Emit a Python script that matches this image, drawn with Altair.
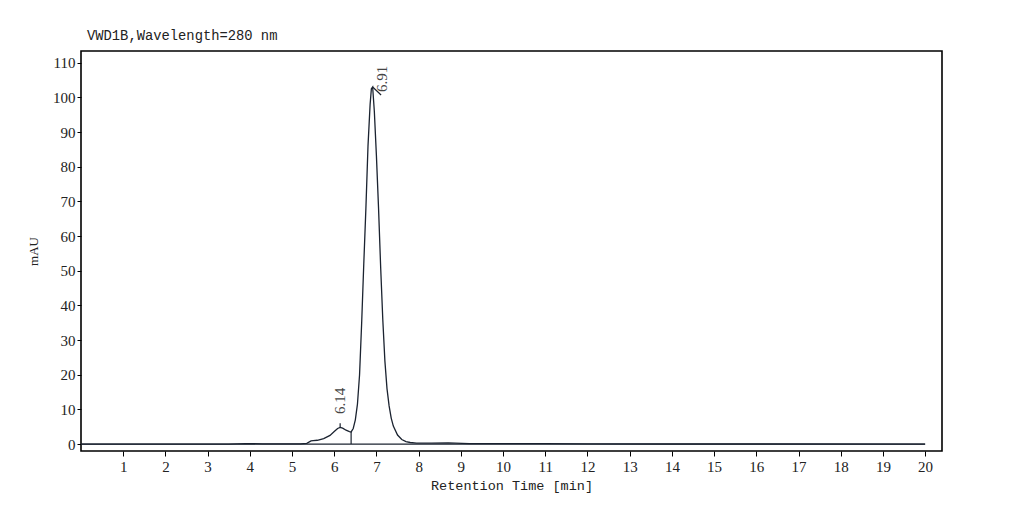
import altair as alt
import pandas as pd

# chromatogram trace (time in min, signal in mAU)
times = [0, 3.5, 3.9, 4.3, 5.2, 5.35, 5.45, 5.5, 5.6, 5.75, 5.9, 6.0, 6.08, 6.14, 6.2,
         6.28, 6.36, 6.4, 6.45, 6.5, 6.55, 6.6, 6.65, 6.7, 6.75, 6.8, 6.85, 6.88, 6.91,
         6.95, 7.0, 7.05, 7.1, 7.15, 7.2, 7.25, 7.3, 7.35, 7.4, 7.5, 7.6, 7.7, 7.8, 7.95,
         8.3, 8.7, 9.2, 10, 11, 12, 14, 20]
signal = [0.0, 0.0, 0.15, 0.05, 0.05, 0.2, 0.9, 1.0, 1.1, 1.6, 2.5, 3.6, 4.5, 4.8, 4.6,
          4.0, 3.6, 3.5, 4.5, 7.0, 11.5, 20, 35, 52, 68, 86, 98, 102.5, 103,
          96, 83, 68, 51, 36, 24, 16, 11, 7.5, 5.2, 2.6, 1.3, 0.7, 0.45, 0.3,
          0.3, 0.35, 0.15, 0.1, 0.15, 0.05, 0.02, 0.0]

# integration baseline and drop line
base_t = [0, 20]
base_v = [0, 0]
drop_t = [6.40]
drop_top = [3.5]

# peak markers
peak_t = [6.14, 6.91]
peak_v = [4.8, 103]
mark_t2 = [6.14, 7.11]
mark_v2 = [6.0, 100.7]
label_t = [6.14, 7.12]
label_v = [8.7, 101.6]
labels = ["6.14", "6.91"]

x_ticks = list(range(1, 21))
y_ticks = list(range(0, 111, 10))

trace = pd.DataFrame({"t": times, "v": signal})
base = pd.DataFrame({"t": base_t, "v": base_v})
drop = pd.DataFrame({"t": drop_t, "v": [0] * len(drop_t), "v2": drop_top})
marks = pd.DataFrame({"t": peak_t, "v": peak_v, "t2": mark_t2, "v2": mark_v2})
labs = pd.DataFrame({"t": label_t, "v": label_v, "txt": labels})

xs = alt.Scale(domain=[0, 20.4], nice=False, zero=False)
ys = alt.Scale(domain=[-2, 113.4], nice=False, zero=False)

x_axis = alt.Axis(values=x_ticks, title="Retention Time [min]", grid=False, domain=False,
                  tickSize=5, tickColor="black", labelPadding=3, labelOverlap=False,
                  labelFont="Liberation Serif", labelFontSize=15, labelColor="#222",
                  titleFont="Liberation Mono", titleFontSize=13.5, titleFontWeight="normal",
                  titleColor="#222", titlePadding=4)
y_axis = alt.Axis(values=y_ticks, title="mAU", grid=False, domain=False,
                  tickSize=4, tickColor="black", labelPadding=2, labelOverlap=False,
                  labelFont="Liberation Serif", labelFontSize=15, labelColor="#222",
                  titleFont="Liberation Serif", titleFontSize=13, titleFontWeight="normal",
                  titleColor="#222", titleX=-48, titleY=200, titleAngle=270,
                  titleAlign="center", titleBaseline="middle")

X = alt.X("t:Q", scale=xs, axis=x_axis)
Y = alt.Y("v:Q", scale=ys, axis=y_axis)

line_color = "#1b2330"

c_trace = alt.Chart(trace).mark_line(color=line_color, strokeWidth=1.3).encode(x=X, y=Y)
c_base = alt.Chart(base).mark_line(color=line_color, strokeWidth=1.2).encode(x=X, y=Y)
c_drop = alt.Chart(drop).mark_rule(color=line_color, strokeWidth=1.2).encode(
    x=X, y=Y, y2="v2:Q")
c_marks = alt.Chart(marks).mark_rule(color=line_color, strokeWidth=1.2).encode(
    x=X, y=Y, x2="t2:Q", y2="v2:Q")
c_labs = alt.Chart(labs).mark_text(angle=270, align="left", baseline="middle",
                                   font="Liberation Serif", fontSize=15, color="#444").encode(
    x=X, y=Y, text="txt:N")

chart = alt.layer(c_trace, c_base, c_drop, c_marks, c_labs).properties(
    width=861, height=400,
    autosize=alt.AutoSizeParams(type="none"),
    padding={"left": 73, "top": 43, "right": 10, "bottom": 50},
    title=alt.TitleParams("VWD1B,Wavelength=280 nm", anchor="start", frame="group",
                          dx=6, offset=8,
                          font="Liberation Mono", fontSize=13.8, fontWeight="normal",
                          color="#222"),
).configure(
    background="white",
    view=alt.ViewConfig(stroke="black", strokeWidth=1.6),
)

chart.save("out.html", embed_options={"renderer": "svg", "actions": False})
